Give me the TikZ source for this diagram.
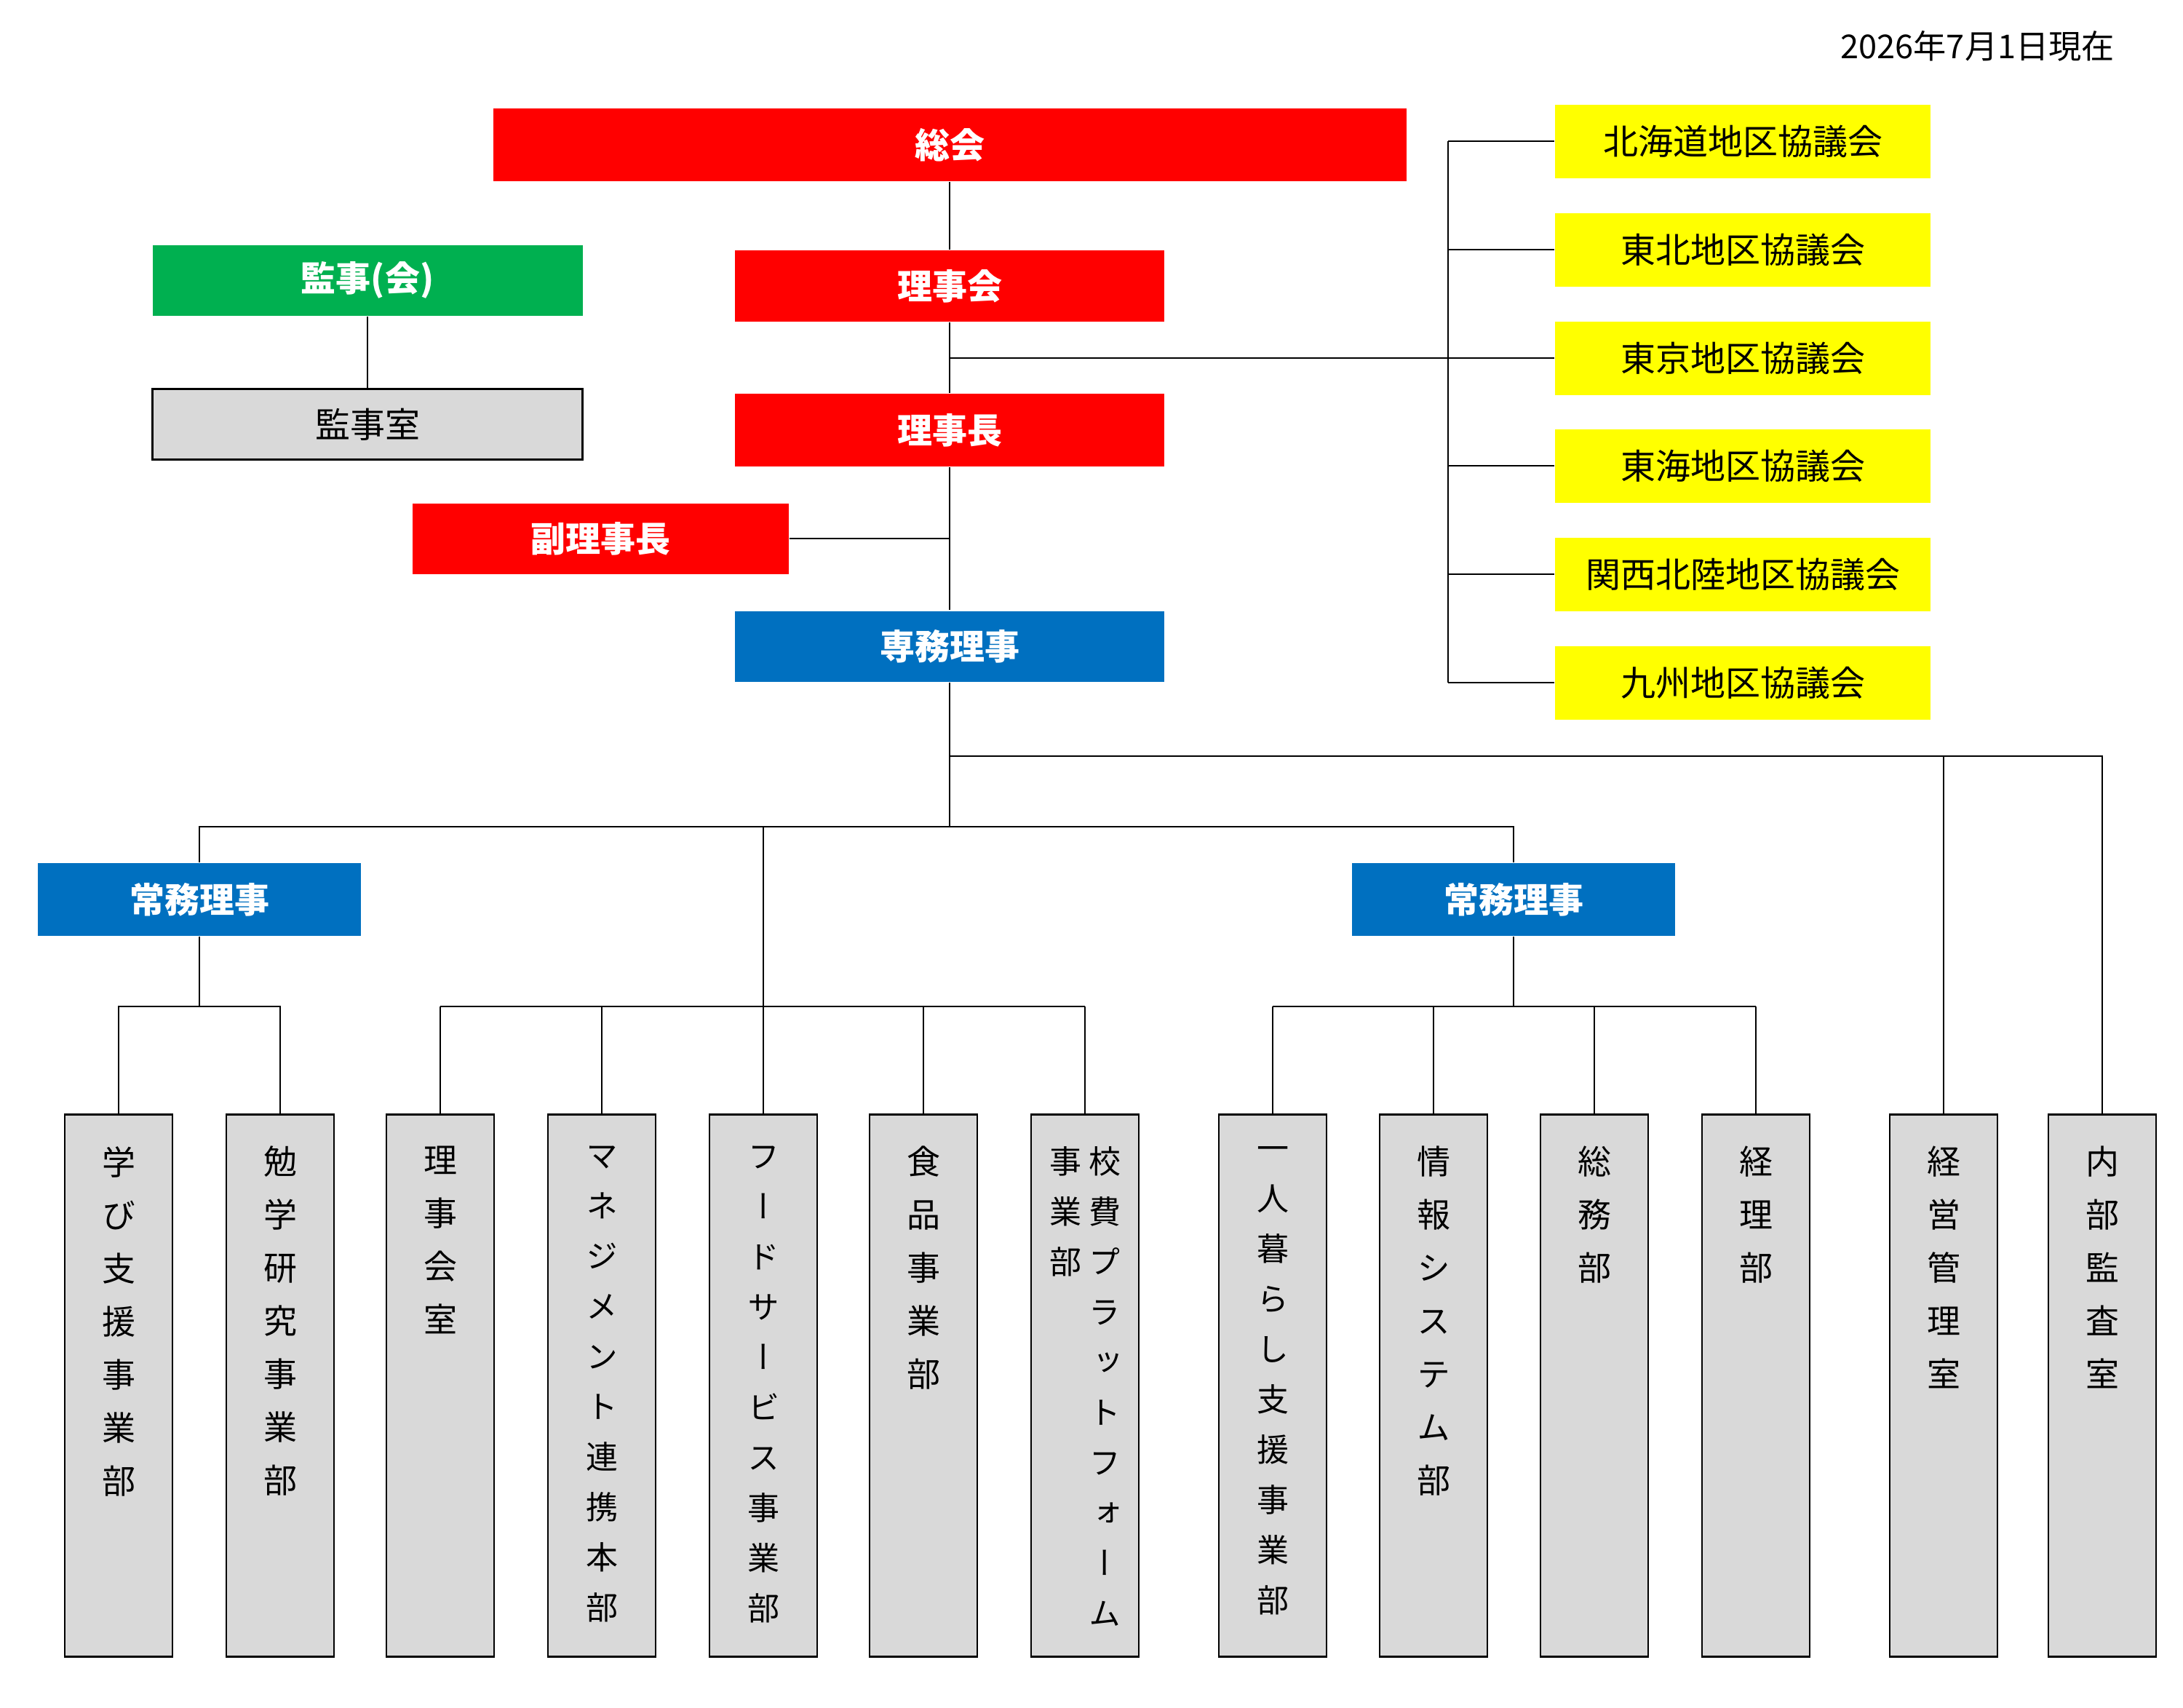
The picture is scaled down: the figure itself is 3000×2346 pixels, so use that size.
\documentclass[tikz,border=0pt]{standalone}
\usepackage{fontspec}
\setmainfont{Noto Sans CJK JP}
\newfontfamily\vjp[RawFeature=+vert]{Noto Sans CJK JP}
\definecolor{ored}{HTML}{FF0000}
\definecolor{ogreen}{HTML}{00B050}
\definecolor{oblue}{HTML}{0070C0}
\definecolor{oyellow}{HTML}{FFFF00}
\definecolor{ogray}{HTML}{D9D9D9}
\begin{document}
\begin{tikzpicture}[x=1pt, y=-1pt, line width=2.2pt,
  tbox/.style={rectangle, inner sep=0pt, text=white, font=\bfseries\fontsize{48}{58}\selectfont},
  ybox/.style={rectangle, fill=oyellow, inner sep=0pt, minimum width=516pt, minimum height=101pt, font=\fontsize{48}{58}\selectfont},
  gbox/.style={rectangle, draw=black, fill=ogray, inner sep=0pt, minimum width=148pt, minimum height=745pt},
  vtxt/.style={anchor=north, inner sep=0pt, align=center, font=\vjp\fontsize{46}{73}\selectfont},
  vtxtl/.style={anchor=north, inner sep=0pt, align=center, font=\vjp\fontsize{44}{69}\selectfont},
  conn/.style={draw=black, line width=2.2pt}]
\useasboundingbox (0,0) rectangle (3000,2346);
\fill[white] (0,0) rectangle (3000,2346);

% date
\node[anchor=east, inner sep=0pt, font=\fontsize{45.2}{56}\selectfont] (date) at (2907,63) {2026年7月1日現在};

% top boxes
\node[tbox, fill=ored, minimum width=1255pt, minimum height=100pt] (soukai) at (1305,199) {総会};
\node[tbox, fill=ored, minimum width=590pt, minimum height=98pt] (rijikai) at (1305,393) {理事会};
\node[tbox, fill=ored, minimum width=590pt, minimum height=100pt] (rijicho) at (1305,591) {理事長};
\node[tbox, fill=ored, minimum width=517pt, minimum height=97pt] (fuku) at (825,740) {副理事長};
\node[tbox, fill=oblue, minimum width=590pt, minimum height=97pt] (senmu) at (1305,888) {専務理事};
\node[tbox, fill=ogreen, minimum width=591pt, minimum height=97pt] (kanji) at (505,385) {監事(会)};
\node[rectangle, draw=black, fill=ogray, inner sep=0pt, minimum width=591pt, minimum height=97pt, font=\fontsize{48}{58}\selectfont] (kanjishitsu) at (505,583) {監事室};

% regional councils
\node[ybox] (y1) at (2395,194) {北海道地区協議会};
\node[ybox] (y2) at (2395,343) {東北地区協議会};
\node[ybox] (y3) at (2395,492) {東京地区協議会};
\node[ybox] (y4) at (2395,640) {東海地区協議会};
\node[ybox] (y5) at (2395,789) {関西北陸地区協議会};
\node[ybox] (y6) at (2395,938) {九州地区協議会};

% executive directors
\node[tbox, fill=oblue, minimum width=444pt, minimum height=100pt] (joumu1) at (274,1236) {常務理事};
\node[tbox, fill=oblue, minimum width=444pt, minimum height=100pt] (joumu2) at (2080,1236) {常務理事};

% departments
\node[gbox] (g1) at (163,1904) {};
\node[gbox] (g2) at (385,1904) {};
\node[gbox] (g3) at (605,1904) {};
\node[gbox] (g4) at (827,1904) {};
\node[gbox] (g5) at (1049,1904) {};
\node[gbox] (g6) at (1269,1904) {};
\node[gbox] (g7) at (1491,1904) {};
\node[gbox] (g8) at (1749,1904) {};
\node[gbox] (g9) at (1970,1904) {};
\node[gbox] (g10) at (2191,1904) {};
\node[gbox] (g11) at (2413,1904) {};
\node[gbox] (g12) at (2671,1904) {};
\node[gbox] (g13) at (2889,1904) {};

\node[vtxt] (t1) at (163,1574) {学\\び\\支\\援\\事\\業\\部};
\node[vtxt] (t2) at (385,1574) {勉\\学\\研\\究\\事\\業\\部};
\node[vtxt] (t3) at (605,1574) {理\\事\\会\\室};
\node[vtxtl] (t4) at (827,1574) {マ\\ネ\\ジ\\メ\\ン\\ト\\連\\携\\本\\部};
\node[vtxtl] (t5) at (1049,1574) {フ\\ー\\ド\\サ\\ー\\ビ\\ス\\事\\業\\部};
\node[vtxt] (t6) at (1269,1574) {食\\品\\事\\業\\部};
\node[vtxtl] (t7a) at (1518,1574) {校\\費\\プ\\ラ\\ッ\\ト\\フ\\ォ\\ー\\ム};
\node[vtxtl] (t7b) at (1464,1574) {事\\業\\部};
\node[vtxtl] (t8) at (1749,1574) {一\\人\\暮\\ら\\し\\支\\援\\事\\業\\部};
\node[vtxt] (t9) at (1970,1574) {情\\報\\シ\\ス\\テ\\ム\\部};
\node[vtxt] (t10) at (2191,1574) {総\\務\\部};
\node[vtxt] (t11) at (2413,1574) {経\\理\\部};
\node[vtxt] (t12) at (2671,1574) {経\\営\\管\\理\\室};
\node[vtxt] (t13) at (2889,1574) {内\\部\\監\\査\\室};

% junction coordinates
\coordinate (bus) at (1990,0);
\coordinate (jr) at (0,1039);
\coordinate (jm) at (0,1136);
\coordinate (jl) at (0,1383);

% connectors: top
\draw[conn] (soukai.south) -- (rijikai.north);
\draw[conn] (rijikai.south) -- (rijicho.north);
\draw[conn] (rijicho.south) -- (senmu.north);
\draw[conn] (fuku.east) -- (fuku.east -| rijicho.south);
\draw[conn] (kanji.south) -- (kanjishitsu.north);
\draw[conn] (y3.west -| rijikai.south) -- (y3.west);
\draw[conn] (y1.west -| bus) -- (y6.west -| bus);
\foreach \y in {y1,y2,y4,y5,y6} \draw[conn] (\y.west -| bus) -- (\y.west);

% connectors: lower
\draw[conn] (senmu.south) -- (senmu.south |- jm);
\draw[conn] (senmu.south |- jr) -- (g13.north |- jr) -- (g13.north);
\draw[conn] (g12.north |- jr) -- (g12.north);
\draw[conn] (joumu1.north) -- (joumu1.north |- jm) -- (joumu2.north |- jm) -- (joumu2.north);
\draw[conn] (g5.north |- jm) -- (g5.north);

\draw[conn] (joumu1.south) -- (joumu1.south |- jl);
\draw[conn] (g1.north) -- (g1.north |- jl) -- (g2.north |- jl) -- (g2.north);

\draw[conn] (g3.north |- jl) -- (g7.north |- jl);
\foreach \g in {g3,g4,g6,g7} \draw[conn] (\g.north |- jl) -- (\g.north);

\draw[conn] (joumu2.south) -- (joumu2.south |- jl);
\draw[conn] (g8.north |- jl) -- (g11.north |- jl);
\foreach \g in {g8,g9,g10,g11} \draw[conn] (\g.north |- jl) -- (\g.north);
\end{tikzpicture}
\end{document}
